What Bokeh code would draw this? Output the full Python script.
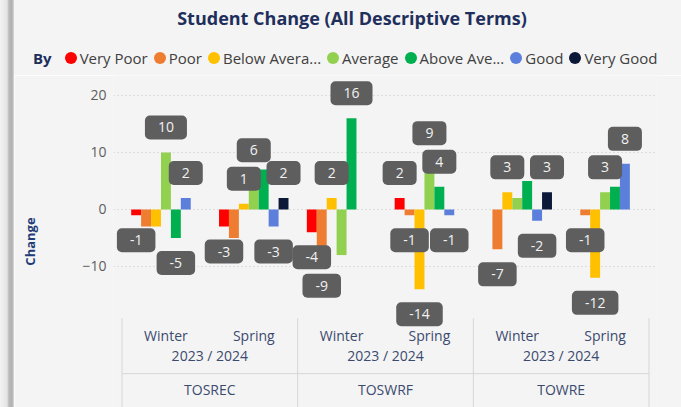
from bokeh.plotting import figure
from bokeh.layouts import column, row
from bokeh.models import (ColumnDataSource, FactorRange, Range1d, FixedTicker, Div)
from bokeh.transform import dodge
from bokeh.core.properties import value
from bokeh.embed import file_html
from bokeh.resources import INLINE

# ---------------- data ----------------
tests = ["TOSREC", "TOSWRF", "TOWRE"]
seasons = ["Winter", "Spring"]
year_label = "2023 / 2024"
terms = ["Very Poor", "Poor", "Below Average", "Average",
         "Above Average", "Good", "Very Good"]
legend_labels = ["Very Poor", "Poor", "Below Avera...", "Average",
                 "Above Ave...", "Good", "Very Good"]
colors = ["#ff0000", "#ee7d31", "#ffc000", "#92d050",
          "#00b050", "#5b7fdb", "#0b1838"]

# order: TOSREC W, TOSREC S, TOSWRF W, TOSWRF S, TOWRE W, TOWRE S
very_poor     = [-1, -3, -4,   2,  0,   0]
poor          = [-3, -5, -9,  -1, -7,  -1]
below_average = [-3,  1,  2, -14,  3, -12]
average       = [10,  6, -8,   9,  2,   3]
above_average = [-5,  7, 16,   4,  5,   4]
good          = [ 2, -3,  0,  -1, -2,   8]
very_good     = [ 0,  2,  0,   0,  3,   0]
series = [very_poor, poor, below_average, average, above_average, good, very_good]

y_ticks = [-10, 0, 10, 20]

# data labels that are visible in the original (others hidden by overlap)
shown_labels = {
    ("TOSREC", "Winter"): ["Very Poor", "Average", "Above Average", "Good"],
    ("TOSREC", "Spring"): ["Very Poor", "Below Average", "Average", "Good", "Very Good"],
    ("TOSWRF", "Winter"): ["Very Poor", "Poor", "Below Average", "Above Average"],
    ("TOSWRF", "Spring"): ["Very Poor", "Poor", "Below Average", "Average", "Above Average", "Good"],
    ("TOWRE", "Winter"): ["Poor", "Below Average", "Good", "Very Good"],
    ("TOWRE", "Spring"): ["Poor", "Below Average", "Average", "Good"],
}

title_text = "Student Change (All Descriptive Terms)"
legend_title = "By"

# ---------------- style ----------------
TOTAL_W, TOTAL_H = 681, 407
EDGE = 14                      # grey card edge on the left
W = TOTAL_W - EDGE
HEAD_H = 75
MAIN_H = TOTAL_H - HEAD_H
LEFT = 113 - EDGE
BG = "#f4f4f4"
NAVY = "#1f2f5c"
AXIS_TXT = "#605e5c"
CAT_TXT = "#3b4a6e"
SEP = "#d6d6d6"
BAR_W = 0.113
FONT = "Open Sans"

# ---------------- left card edge ----------------
edge = Div(text=(f'<div style="width:{EDGE}px;height:{TOTAL_H}px;'
                 'background:linear-gradient(to right,#f2f2f2 0px,#e4e4e4 7px,'
                 '#b9b9b9 9px,#b0b0b0 12px,#dadada 14px);"></div>'),
           width=EDGE, height=TOTAL_H, margin=0)

# ---------------- header: title + legend (HTML) ----------------
legend_html = "".join(
    f'<span style="display:inline-block;width:12px;height:12px;border-radius:50%;'
    f'background:{c};margin:0 3px 0 0;vertical-align:middle;"></span>'
    f'<span style="margin-right:6px;vertical-align:middle;">{lab}</span>'
    for lab, c in zip(legend_labels, colors))
head_html = (
    f'<div style="position:relative;width:{W}px;height:{HEAD_H}px;background:{BG};'
    f"font-family:'{FONT}',sans-serif;overflow:hidden;\">"
    f'<div style="position:absolute;left:{102 - EDGE}px;width:500px;top:5px;text-align:center;'
    f'font-size:18px;line-height:26px;font-weight:bold;color:{NAVY};white-space:nowrap;">'
    f'{title_text}</div>'
    f'<div style="position:absolute;left:{33 - EDGE}px;top:45px;font-size:15px;line-height:22px;'
    f'color:#404040;white-space:nowrap;">'
    f'<span style="font-weight:bold;color:{NAVY};margin-right:13px;vertical-align:middle;">'
    f'{legend_title}</span>{legend_html}</div></div>'
)
head = Div(text=head_html, width=W, height=HEAD_H, margin=0)

# ---------------- main chart ----------------
factors = [(t, s) for t in tests for s in seasons]
x_range = FactorRange(*factors, factor_padding=0, group_padding=0,
                      range_padding=0.097, range_padding_units="absolute")

chart = figure(width=W, height=MAIN_H, x_range=x_range, y_range=Range1d(-34.74, 23.5),
               output_backend="svg", toolbar_location=None, x_axis_location=None,
               title=None, min_border_left=LEFT, min_border_right=24,
               min_border_top=0, min_border_bottom=0)
chart.background_fill_color = BG
chart.border_fill_color = BG
chart.outline_line_color = None

chart.yaxis.ticker = FixedTicker(ticks=y_ticks)
chart.yaxis.axis_line_color = None
chart.yaxis.major_tick_line_color = None
chart.yaxis.minor_tick_line_color = None
chart.yaxis.major_label_text_font = FONT
chart.yaxis.major_label_text_font_size = "14px"
chart.yaxis.major_label_text_color = AXIS_TXT
chart.yaxis.major_label_standoff = 1
chart.yaxis.axis_label = "Change"
chart.yaxis.axis_label_text_font = FONT
chart.yaxis.axis_label_text_font_size = "13px"
chart.yaxis.axis_label_text_font_style = "bold"
chart.yaxis.axis_label_text_color = "#1f3c78"
chart.yaxis.axis_label_standoff = 40

chart.xgrid.visible = False
chart.ygrid.grid_line_color = "#c9c9c9"
chart.ygrid.grid_line_dash = "1 3"

n = len(terms)
for i, (term, vals, col) in enumerate(zip(terms, series, colors)):
    src = ColumnDataSource(dict(x=factors, top=vals))
    chart.vbar(x=dodge("x", (i - (n - 1) / 2) * BAR_W, range=x_range), top="top",
               width=BAR_W, source=src, fill_color=col, line_color=None)

# data labels
pos = dict(x=[], y=[], text=[])
neg = dict(x=[], y=[], text=[])
for j, f in enumerate(factors):
    for i, term in enumerate(terms):
        if term in shown_labels[f]:
            v = series[i][j]
            xs = j + 0.5 + (i - (n - 1) / 2) * BAR_W
            d = pos if v > 0 else neg
            d["x"].append(xs)
            d["y"].append(v)
            d["text"].append(str(v))

VPAD = 7
PAD = dict(left=13, right=13, top=VPAD, bottom=VPAD)
for d, base, off in ((pos, "bottom", -(VPAD + 6)), (neg, "top", VPAD + 6)):
    chart.text(x="x", y="y", text="text", source=ColumnDataSource(d),
               text_font=value(FONT), text_font_size="14px", text_color="#f2f2f2",
               text_align="center", text_baseline=base, y_offset=off,
               background_fill_color="#5e5e5e", padding=PAD, border_radius=5)

# category axis (drawn inside the frame)
bounds = [k * len(seasons) for k in range(len(tests) + 1)]
chart.segment(x0=bounds, y0=[-19.1] * len(bounds), x1=bounds, y1=[-40.0] * len(bounds),
              line_color=SEP, line_width=1)
chart.segment(x0=[bounds[0]], y0=[-28.8], x1=[bounds[-1]], y1=[-28.8],
              line_color=SEP, line_width=1)
chart.text(x=factors, y=[-22.1] * len(factors), text=[f[1] for f in factors],
           text_font=value(FONT), text_font_size="14px", text_color=CAT_TXT,
           text_align="center", text_baseline="middle")
chart.text(x=tests, y=[-25.6] * len(tests), text=[year_label] * len(tests),
           text_font=value(FONT), text_font_size="14px", text_color=CAT_TXT,
           text_align="center", text_baseline="middle")
chart.text(x=tests, y=[-31.6] * len(tests), text=tests,
           text_font=value(FONT), text_font_size="14px", text_color=CAT_TXT,
           text_align="center", text_baseline="middle")

p = row(edge, column(head, chart, spacing=0), spacing=0)
open("out.html", "w").write(file_html(p, INLINE))
